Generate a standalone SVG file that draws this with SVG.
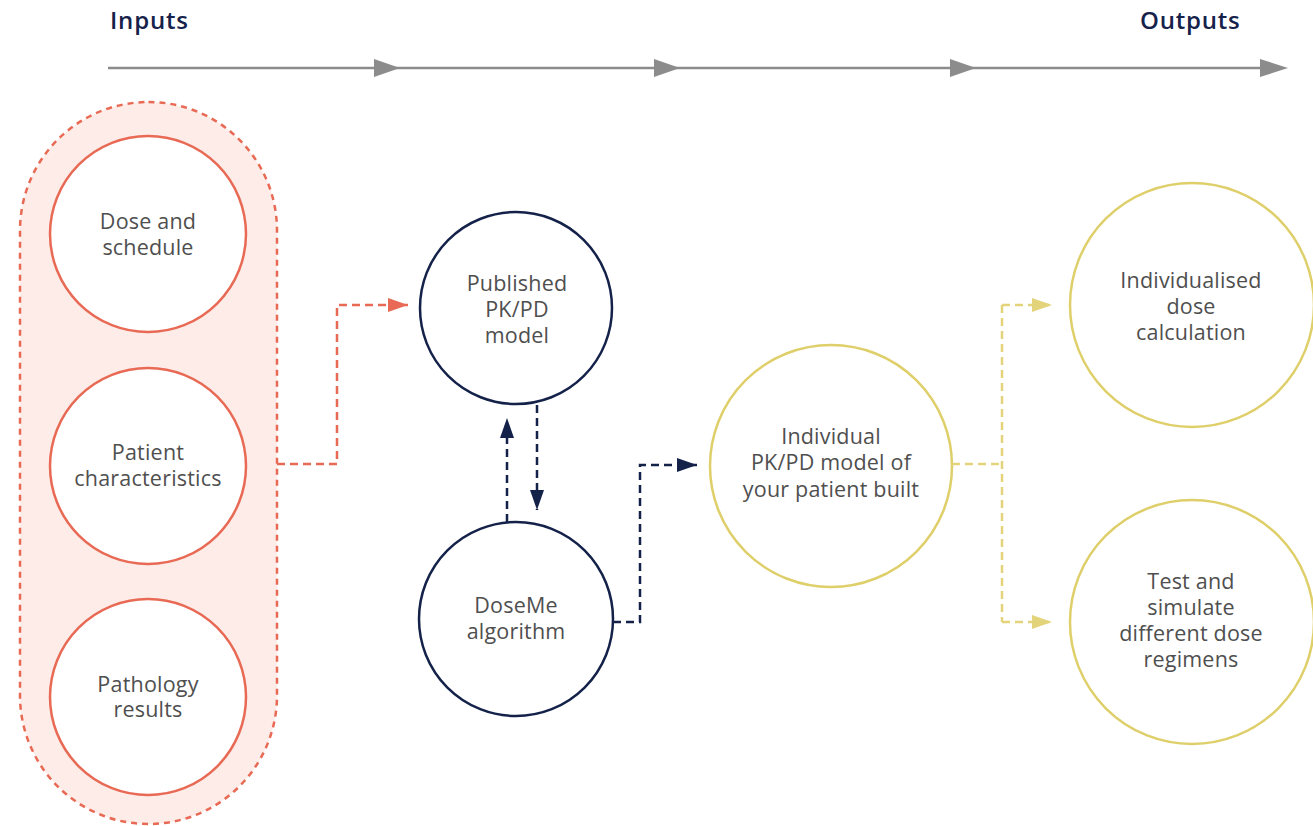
<svg xmlns="http://www.w3.org/2000/svg" width="1313" height="826" viewBox="0 0 1313 826">
  <style>
    .title { font-family: "Open Sans", "Liberation Sans", sans-serif; font-weight: 600; font-size: 24px; letter-spacing: 0.8px; fill: #16224a; }
    .label { font-family: "Open Sans", "Liberation Sans", sans-serif; font-size: 21.5px; letter-spacing: 0.2px; fill: #4f4f4f; text-anchor: middle; }
    .red { fill: #ffffff; stroke: #e86a55; stroke-width: 2.5; }
    .navy { fill: #ffffff; stroke: #14224a; stroke-width: 2.5; }
    .gold { fill: #ffffff; stroke: #dfcf6a; stroke-width: 2.5; }
    .link { fill: none; stroke-width: 2.5; stroke-dasharray: 8 5; }
    .link-red { stroke: #e86a55; }
    .link-navy { stroke: #14224a; }
    .link-gold { stroke: #e3d37a; }
    .timeline { stroke: #8c8c8c; stroke-width: 2.5; fill: none; }
    .tick { fill: #8c8c8c; }
  </style>
  <defs>
    <marker id="head-red" markerUnits="userSpaceOnUse" markerWidth="20" markerHeight="14" refX="20" refY="7" orient="auto">
      <path d="M0,0 L20,7 L0,14 z" fill="#e86a55"/>
    </marker>
    <marker id="head-navy" markerUnits="userSpaceOnUse" markerWidth="20" markerHeight="14" refX="20" refY="7" orient="auto">
      <path d="M0,0 L20,7 L0,14 z" fill="#14224a"/>
    </marker>
    <marker id="head-gold" markerUnits="userSpaceOnUse" markerWidth="20" markerHeight="14" refX="20" refY="7" orient="auto">
      <path d="M0,0 L20,7 L0,14 z" fill="#e3d37a"/>
    </marker>
  </defs>

  <rect width="1313" height="826" fill="#ffffff"/>

  <!-- header -->
  <g id="header">
    <text class="title" x="110" y="29">Inputs</text>
    <text class="title" x="1140" y="29">Outputs</text>
    <line class="timeline" x1="108" y1="68" x2="1272" y2="68"/>
    <path class="tick" d="M374,59 L400,68 L374,77 z"/>
    <path class="tick" d="M654,59 L680,68 L654,77 z"/>
    <path class="tick" d="M950,59 L976,68 L950,77 z"/>
    <path class="tick" d="M1260,59 L1288,68 L1260,77 z"/>
  </g>

  <!-- input group -->
  <g id="inputs">
    <rect x="20" y="102" width="257" height="722" rx="128.5" ry="128.5" fill="#fdece8" stroke="#e86a55" stroke-width="2.5" stroke-dasharray="6 5"/>
  </g>

  <g id="dose-schedule">
    <circle class="red" cx="148" cy="234" r="98"/>
    <text class="label" x="148" y="229">Dose and</text>
    <text class="label" x="148" y="255">schedule</text>
  </g>

  <g id="patient-characteristics">
    <circle class="red" cx="148" cy="466" r="98"/>
    <text class="label" x="148" y="460">Patient</text>
    <text class="label" x="148" y="486">characteristics</text>
  </g>

  <g id="pathology-results">
    <circle class="red" cx="148" cy="697" r="98"/>
    <text class="label" x="148" y="692">Pathology</text>
    <text class="label" x="148" y="717">results</text>
  </g>

  <g id="published-model">
    <circle class="navy" cx="516" cy="308" r="96"/>
    <text class="label" x="517" y="291">Published</text>
    <text class="label" x="517" y="317">PK/PD</text>
    <text class="label" x="517" y="343">model</text>
  </g>

  <g id="doseme-algorithm">
    <circle class="navy" cx="516" cy="619" r="97"/>
    <text class="label" x="516" y="613">DoseMe</text>
    <text class="label" x="516" y="639">algorithm</text>
  </g>

  <g id="individual-model">
    <circle class="gold" cx="831" cy="466" r="121"/>
    <text class="label" x="831" y="444">Individual</text>
    <text class="label" x="831" y="470">PK/PD model of</text>
    <text class="label" x="831" y="497">your patient built</text>
  </g>

  <g id="dose-calculation">
    <circle class="gold" cx="1192" cy="305" r="122"/>
    <text class="label" x="1191" y="288">Individualised</text>
    <text class="label" x="1191" y="314">dose</text>
    <text class="label" x="1191" y="340">calculation</text>
  </g>

  <g id="dose-regimens">
    <circle class="gold" cx="1192" cy="622" r="122"/>
    <text class="label" x="1191" y="589">Test and</text>
    <text class="label" x="1191" y="615">simulate</text>
    <text class="label" x="1191" y="641">different dose</text>
    <text class="label" x="1191" y="667">regimens</text>
  </g>

  <!-- connectors -->
  <g id="connectors">
    <path class="link link-red" d="M277,464 H337 V305 H408" marker-end="url(#head-red)"/>
    <path class="link link-navy" d="M507,522 V418" marker-end="url(#head-navy)"/>
    <path class="link link-navy" d="M537,405 V510" marker-end="url(#head-navy)"/>
    <path class="link link-navy" d="M613,622 H640 V465 H697" marker-end="url(#head-navy)"/>
    <path class="link link-gold" d="M952,464 H1002"/>
    <path class="link link-gold" d="M1002,305 V622"/>
    <path class="link link-gold" d="M1002,305 H1052" marker-end="url(#head-gold)"/>
    <path class="link link-gold" d="M1002,622 H1052" marker-end="url(#head-gold)"/>
  </g>
</svg>
